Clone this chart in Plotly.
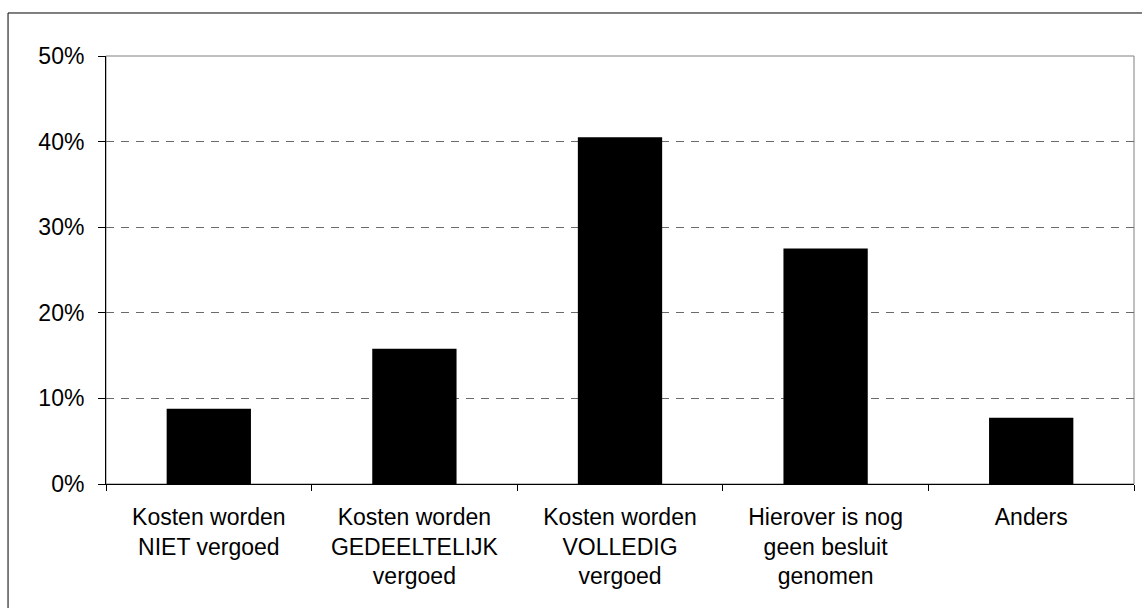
import plotly.graph_objects as go

categories = [
    "Kosten worden<br>NIET vergoed",
    "Kosten worden<br>GEDEELTELIJK<br>vergoed",
    "Kosten worden<br>VOLLEDIG<br>vergoed",
    "Hierover is nog<br>geen besluit<br>genomen",
    "Anders",
]
shares = [0.088, 0.158, 0.405, 0.275, 0.0775]
y_ticks = [0, 0.1, 0.2, 0.3, 0.4, 0.5]

fig = go.Figure(go.Bar(
    x=categories,
    y=shares,
    marker=dict(color="black", line=dict(width=0)),
))

font = dict(family="Liberation Sans, Arial, sans-serif", size=23, color="black")

fig.update_layout(
    width=1142,
    height=608,
    paper_bgcolor="white",
    plot_bgcolor="white",
    margin=dict(l=106, r=8, t=56, b=124),
    bargap=0.59,
    showlegend=False,
    font=font,
    shapes=[
        # grey frame of the plot area (top and right edges)
        dict(type="rect", xref="paper", yref="paper", x0=0, x1=1, y0=0, y1=1,
             line=dict(color="#808080", width=1), layer="below"),
        # outer chart border
        dict(type="rect", xref="paper", yref="paper",
             x0=-0.0953, x1=1.01, y0=-0.3, y1=1.1005,
             line=dict(color="black", width=1), layer="above"),
    ],
)

fig.update_xaxes(
    showline=True, linecolor="black", linewidth=1,
    ticks="outside", ticklen=6, tickcolor="black",
    tickson="boundaries",
    showgrid=False,
    tickfont=font,
    ticklabelstandoff=12,
)

fig.update_yaxes(
    range=[0, 0.5],
    tickvals=y_ticks,
    tickformat=".0%",
    showline=True, linecolor="black", linewidth=1,
    ticks="outside", ticklen=7, tickcolor="black",
    showgrid=True, gridcolor="#6a6a6a", gridwidth=1, griddash="8px,7px",
    zeroline=False,
    tickfont=font,
    ticklabelstandoff=9,
)

# drop the browser's default body margin so the figure sits at the page origin
fig.write_html(
    "out.html",
    config={"displayModeBar": False},
    post_script="document.body.style.margin='0';",
)
